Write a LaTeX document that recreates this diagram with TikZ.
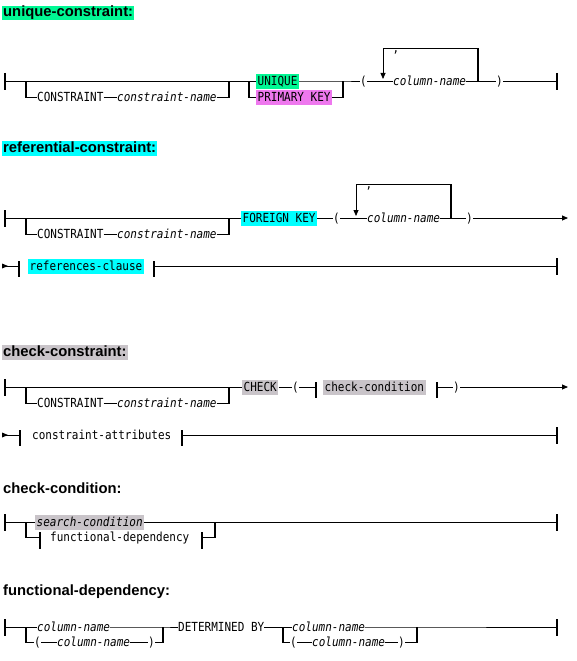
\documentclass[tikz,border=0pt]{standalone}
\usepackage{fontspec}
\setsansfont{Liberation Sans}
\setmonofont{DejaVu Sans Mono}[FakeStretch=0.88]
\usetikzlibrary{arrows.meta}
\definecolor{hlgreen}{HTML}{00F894}
\definecolor{hlpink}{HTML}{EE78EE}
\definecolor{hlcyan}{HTML}{00FFFF}
\definecolor{hlgrey}{HTML}{C9C4C9}

\begin{document}
\begin{tikzpicture}[x=1pt, y=-1pt,
  ttl/.style={anchor=base west, inner xsep=1pt, inner ysep=1pt, text height=10pt,
              text depth=2.5pt, font=\sffamily\bfseries\fontsize{14.8}{16}\selectfont},
  kw/.style={anchor=west, inner sep=0pt, text height=10pt, text depth=2pt,
             font=\ttfamily\fontsize{12.5}{14}\selectfont},
  var/.style={kw, font=\ttfamily\itshape\fontsize{12.5}{14}\selectfont},
  hl/.style={inner xsep=1.5pt, inner ysep=1.5pt},
  rail/.style={line width=0.8pt},
  jn/.style={line width=1.3pt},
  vbar/.style={line width=1.5pt},
  toarr/.style={rail, -{Triangle[length=6pt, width=5pt]}},
]
\useasboundingbox (0,0) rectangle (577,661);
\fill[white] (0,0) rectangle (577,661);

% unique-constraint
\node[ttl, fill=hlgreen] (uc) at (2,17) {unique-constraint:};
\node[kw] (con1) at (37,97) {CONSTRAINT};
\node[var] (cnm1) at (117,97) {constraint-name};
\node[kw, hl, fill=hlgreen] (uq) at (256,81) {UNIQUE};
\node[kw, hl, fill=hlpink] (pk) at (256,97) {PRIMARY KEY};
\node[kw] (lp1) at (360,81) {(};
\node[var] (col1) at (393,81) {column-name};
\node[kw, anchor=base] (cm1) at (396,52.5) {,};
\node[kw] (rp1) at (496,81) {)};
\draw[vbar] (5,73) -- (5,90);
\draw[rail] (5,81) -- (uq.west);
\draw[rail] (26,97) -- (con1.west);
\draw[rail] (con1.east) -- (cnm1.west);
\draw[rail] (cnm1.east) -- (229,97);
\draw[jn] (26,81) -- (26,97.5);
\draw[jn] (229,81) -- (229,97.5);
\draw[rail] (249,97) -- (pk.west);
\draw[jn] (249,81) -- (249,97.5);
\draw[rail] (uq.east) -- (343,81) -- (lp1.west);
\draw[rail] (pk.east) -- (343,97);
\draw[jn] (343,81) -- (343,97.5);
\draw[rail] (lp1.east) -- (col1.west);
\draw[jn] (478,81) -- (478,48);
\draw[toarr] (478,48) -- (383,48) -- (383,79);
\draw[rail] (col1.east) -- (rp1.west);
\draw[rail] (rp1.east) -- (557,81);
\draw[vbar] (557,73) -- (557,90);

% referential-constraint
\node[ttl, fill=hlcyan] (rfc) at (2,152) {referential-constraint:};
\node[kw] (con2) at (37,234) {CONSTRAINT};
\node[var] (cnm2) at (117,234) {constraint-name};
\node[kw, hl, fill=hlcyan] (fk) at (241,218) {FOREIGN KEY};
\node[kw] (lp2) at (333,218) {(};
\node[var] (col2) at (367,218) {column-name};
\node[kw, anchor=base] (cm2) at (369,188.5) {,};
\node[kw] (rp2) at (466,218) {)};
\draw[vbar] (5,210) -- (5,227);
\draw[rail] (5,218) -- (fk.west);
\draw[rail] (26,234) -- (con2.west);
\draw[rail] (con2.east) -- (cnm2.west);
\draw[rail] (cnm2.east) -- (229,234);
\draw[jn] (26,218) -- (26,234.5);
\draw[jn] (229,218) -- (229,234.5);
\draw[rail] (fk.east) -- (lp2.west);
\draw[rail] (lp2.east) -- (col2.west);
\draw[jn] (451,218) -- (451,184);
\draw[toarr] (451,184) -- (356,184) -- (356,216);
\draw[rail] (col2.east) -- (rp2.west);
\draw[toarr] (rp2.east) -- (568,218);
% continuation row
\node[kw, hl, fill=hlcyan] (rcl) at (28,266) {references-clause};
\fill (2,263.5) -- (8,266) -- (2,268.5) -- cycle;
\draw[rail] (2,266) -- (19,266);
\draw[vbar] (19,261) -- (19,277);
\draw[vbar] (154,261) -- (154,277);
\draw[rail] (154,266) -- (557,266);
\draw[vbar] (557,258) -- (557,275);

% check-constraint
\node[ttl, fill=hlgrey] (ckc) at (2,356) {check-constraint:};
\node[kw] (con3) at (37,403) {CONSTRAINT};
\node[var] (cnm3) at (117,403) {constraint-name};
\node[kw, hl, fill=hlgrey] (chk) at (242,387) {CHECK};
\node[kw] (lp3) at (292,387) {(};
\node[kw, hl, fill=hlgrey] (ccd) at (323,387) {check-condition};
\node[kw] (rp3) at (453,387) {)};
\draw[vbar] (5,379) -- (5,396);
\draw[rail] (5,387) -- (chk.west);
\draw[rail] (26,403) -- (con3.west);
\draw[rail] (con3.east) -- (cnm3.west);
\draw[rail] (cnm3.east) -- (229,403);
\draw[jn] (26,387) -- (26,403.5);
\draw[jn] (229,387) -- (229,403.5);
\draw[rail] (chk.east) -- (lp3.west);
\draw[rail] (lp3.east) -- (316,387);
\draw[vbar] (316,382) -- (316,398);
\draw[vbar] (437,382) -- (437,398);
\draw[rail] (437,387) -- (rp3.west);
\draw[toarr] (rp3.east) -- (568,387);
% continuation row
\node[kw] (cat) at (32,435) {constraint-attributes};
\fill (2,432.5) -- (8,435) -- (2,437.5) -- cycle;
\draw[rail] (2,435) -- (20,435);
\draw[vbar] (20,430) -- (20,446);
\draw[vbar] (182,430) -- (182,446);
\draw[rail] (182,435) -- (557,435);
\draw[vbar] (557,427) -- (557,444);

% check-condition
\node[ttl] (cdn) at (2,493) {check-condition:};
\node[var, hl, fill=hlgrey] (sc) at (35,522) {search-condition};
\node[kw] (fdp) at (50,537) {functional-dependency};
\draw[vbar] (5,514) -- (5,531);
\draw[rail] (5,522) -- (sc.west);
\draw[rail] (sc.east) -- (557,522);
\draw[vbar] (557,514) -- (557,531);
\draw[rail] (26,537) -- (40,537);
\draw[jn] (26,522) -- (26,537.5);
\draw[vbar] (40,532) -- (40,549);
\draw[vbar] (202,532) -- (202,549);
\draw[rail] (202,537) -- (215,537);
\draw[jn] (215,522) -- (215,537.5);

% functional-dependency
\node[ttl] (fdn) at (2,595) {functional-dependency:};
\node[var] (fcn1) at (37,627) {column-name};
\node[kw] (flp1) at (34,642) {(};
\node[var] (fcn2) at (57,642) {column-name};
\node[kw] (frp1) at (148,642) {)};
\node[kw] (det) at (178,627) {DETERMINED BY};
\node[var] (fcn3) at (292,627) {column-name};
\node[kw] (flp2) at (290,642) {(};
\node[var] (fcn4) at (312,642) {column-name};
\node[kw] (frp2) at (398,642) {)};
\draw[vbar] (5,619) -- (5,636);
\draw[rail] (5,627) -- (fcn1.west);
\draw[rail] (fcn1.east) -- (163,627) -- (det.west);
\draw[rail] (26,642) -- (flp1.west);
\draw[rail] (flp1.east) -- (fcn2.west);
\draw[rail] (fcn2.east) -- (frp1.west);
\draw[rail] (frp1.east) -- (163,642);
\draw[jn] (26,627) -- (26,642.5);
\draw[jn] (163,627) -- (163,642.5);
\draw[rail] (det.east) -- (fcn3.west);
\draw[rail] (fcn3.east) -- (417,627) -- (557,627);
\draw[rail] (283,642) -- (flp2.west);
\draw[rail] (flp2.east) -- (fcn4.west);
\draw[rail] (fcn4.east) -- (frp2.west);
\draw[rail] (frp2.east) -- (417,642);
\draw[jn] (283,627) -- (283,642.5);
\draw[jn] (417,627) -- (417,642.5);
\draw[vbar] (557,619) -- (557,636);
\end{tikzpicture}
\end{document}
